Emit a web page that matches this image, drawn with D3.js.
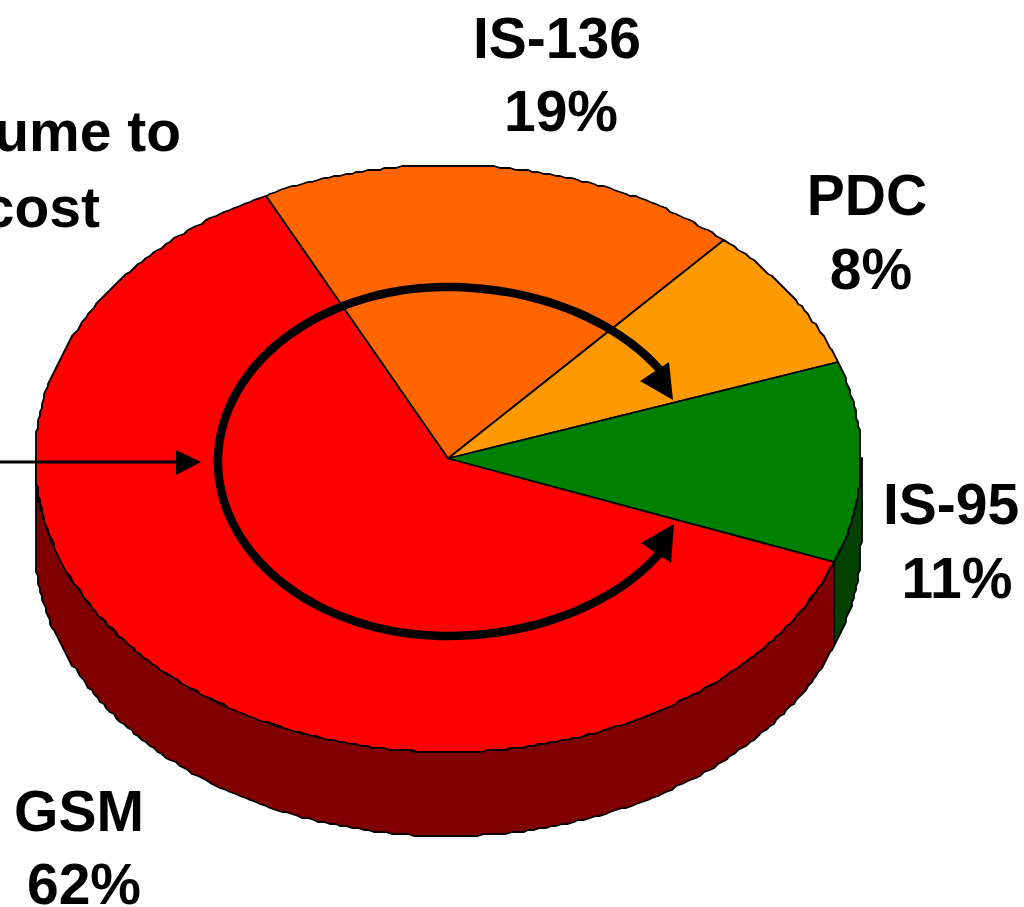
<!DOCTYPE html>
<html lang="en">
<head>
<meta charset="UTF-8">
<title>Digital standards share</title>
<script src="https://d3js.org/d3.v7.min.js"></script>
<style>
    html, body { margin: 0; padding: 0; background: #fff; overflow: hidden; }
    svg { display: block; }
    text { font-family: "Liberation Sans", Arial, sans-serif; font-weight: bold; font-size: 57px; fill: #000; text-anchor: middle; }
</style>
</head>
<body>
<svg id="chart" width="1024" height="907"></svg>
<script>
// slices run clockwise, starting at the IS-136 / GSM edge
var standards = ["IS-136", "PDC", "IS-95", "GSM"];
var shares = [19, 8, 11, 62];
var topColors = ["#ff6600", "#ff9900", "#008000", "#ff0000"];
var sideColors = ["#803300", "#804c00", "#004000", "#800000"];

var noteLines = ["Volume to", "cost"];

// label placement: [name x, name baseline, percent x, percent baseline]
var labelSpots = [
    [557, 58, 561, 131],
    [867, 215, 871, 289],
    [951, 524, 957, 598],
    [79, 831, 84, 904]
];

var depth = 84;
var startDeg = -26.3;

var svg = d3.select("#chart");

var xScale = d3.scaleLinear().domain([-1, 1]).range([35, 861]);
var yScale = d3.scaleLinear().domain([1, -1]).range([165, 752]);

var pie = d3.pie()
    .sort(null)
    .startAngle(startDeg * Math.PI / 180)
    .endAngle((startDeg + 360) * Math.PI / 180);

var arcs = pie(shares);

// the outline is snapped to a coarse grid, which gives the rim its rough edge
function snap(v) { return Math.round(v / 2) * 2; }

function rimPoint(a, drop) {
    return [snap(xScale(Math.sin(a))), snap(yScale(Math.cos(a))) + drop];
}

function rimPoints(a0, a1, drop) {
    var steps = Math.max(1, Math.ceil(Math.abs(a1 - a0) / (0.8 * Math.PI / 180)));
    return d3.range(steps + 1).map(function(i) {
        return rimPoint(a0 + (a1 - a0) * i / steps, drop);
    });
}

var line = d3.line();

// front wall, only the part of each slice between 90 and 270 degrees shows
var wallFrom = Math.PI / 2;
var wallTo = 3 * Math.PI / 2;

var walls = svg.append("g");
arcs.forEach(function(d, i) {
    var a0 = Math.max(d.startAngle, wallFrom);
    var a1 = Math.min(d.endAngle, wallTo);
    if (a1 <= a0) return;
    var pts = rimPoints(a0, a1, 0).concat(rimPoints(a1, a0, depth));
    walls.append("path")
        .attr("d", line(pts) + "Z")
        .attr("fill", sideColors[i])
        .attr("stroke", "#000")
        .attr("stroke-width", 1.8)
        .attr("stroke-linejoin", "round");
});

// top face
var center = [xScale(0), yScale(0)];
svg.append("g").selectAll("path")
    .data(arcs)
    .enter().append("path")
    .attr("d", function(d) {
        return line([center].concat(rimPoints(d.startAngle, d.endAngle, 0))) + "Z";
    })
    .attr("fill", function(d, i) { return topColors[i]; })
    .attr("stroke", "#000")
    .attr("stroke-width", 1.8)
    .attr("stroke-linejoin", "round");

// big circular arrow inside the pie, going anticlockwise with heads at both ends
// the right half bulges out further than the left
var ringLeft = d3.scaleLinear().domain([-1, 0]).range([218, 447]);
var ringRight = d3.scaleLinear().domain([0, 1]).range([447, 697]);
var ringY = d3.scaleLinear().domain([1, -1]).range([287, 636]);
var ringAngles = d3.range(59, -240, -3).map(function(deg) { return deg * Math.PI / 180; });

svg.append("path")
    .attr("d", d3.line().curve(d3.curveCatmullRom)(ringAngles.map(function(a) {
        var s = Math.sin(a);
        return [s < 0 ? ringLeft(s) : ringRight(s), ringY(Math.cos(a))];
    })))
    .attr("fill", "none")
    .attr("stroke", "#000")
    .attr("stroke-width", 8.5);

var heads = [
    [[669, 362], [640, 381], [673, 400]],
    [[674, 524], [641, 543], [671, 563]],
    [[176, 450], [176, 475], [201, 462]]
];
svg.append("g").selectAll("path")
    .data(heads)
    .enter().append("path")
    .attr("d", function(d) { return line(d) + "Z"; })
    .attr("fill", "#000");

// pointer coming in from the note on the left
svg.append("line")
    .attr("x1", 0).attr("x2", 178)
    .attr("y1", 462).attr("y2", 462)
    .attr("stroke", "#000")
    .attr("stroke-width", 3);

// labels
var labels = svg.append("g");
standards.forEach(function(name, i) {
    var spot = labelSpots[i];
    labels.append("text").attr("x", spot[0]).attr("y", spot[1]).text(name);
    labels.append("text").attr("x", spot[2]).attr("y", spot[3]).text(shares[i] + "%");
});

// note, runs off the left side of the page
labels.append("text").attr("x", 181).attr("y", 151).style("text-anchor", "end").text(noteLines[0]);
labels.append("text").attr("x", 100).attr("y", 227).style("text-anchor", "end").text(noteLines[1]);
</script>
</body>
</html>
